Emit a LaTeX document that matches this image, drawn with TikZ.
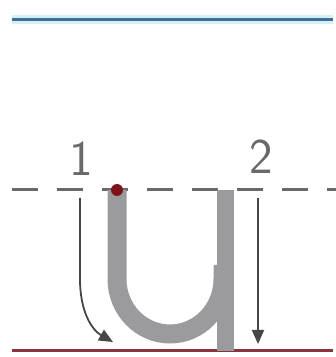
\documentclass[tikz,border=0pt]{standalone}
\usepackage{tikz}
\usetikzlibrary{arrows.meta, positioning}

\definecolor{guideblue}{RGB}{62,112,150}
\definecolor{guidehalo}{RGB}{215,240,248}
\definecolor{basered}{RGB}{140,52,62}
\definecolor{midgray}{RGB}{105,105,105}
\definecolor{lettergray}{RGB}{155,155,158}
\definecolor{arrowgray}{RGB}{70,70,70}
\definecolor{dotred}{RGB}{125,20,25}

\tikzset{
  guide/.style={line width=3pt},
  ustroke/.style={lettergray, line width=19pt},
  strokearrow/.style={arrowgray, line width=1.8pt, -{Triangle[length=14pt,width=12pt]}},
  numlabel/.style={midgray, font=\sffamily\fontsize{50}{50}\selectfont, inner sep=0pt, anchor=base}
}

\begin{document}
\begin{tikzpicture}[x=1pt, y=1pt]
        \useasboundingbox (0,0) rectangle (336,357);

        % lignes de guide
        \draw[guidehalo, line width=9pt] (12,337) -- (333,337);
        \draw[guide, guideblue] (12,337) -- (333,337);
        \draw[guide, midgray, dash pattern=on 26pt off 19pt] (12,167) -- (336,167);
        \draw[guide, basered] (12,6) -- (333,6);

        % la lettre u
        \draw[ustroke] (117,167) -- (117,78) arc[start angle=180, end angle=360, x radius=53, y radius=55] -- (223,92);
        \draw[lettergray, line width=17pt] (225,167) -- (225,6);
        \node[circle, fill=dotred, inner sep=0pt, minimum size=12pt] (start) at (117,167) {};

        % numeros
        \node[numlabel] (one) at (81,181) {1};
        \node[numlabel] (two) at (261,183) {2};

        % fleches
        \coordinate (a1) at (80,159);
        \coordinate (e1) at (113,15);
        \coordinate (a2) at (258,159);
        \coordinate (e2) at (258,13);
        \draw[strokearrow] (a1) -- (80,78) .. controls (80,45) and (92,27) .. (e1);
        \draw[strokearrow] (a2) -- (e2);

    \end{tikzpicture}
\end{document}
